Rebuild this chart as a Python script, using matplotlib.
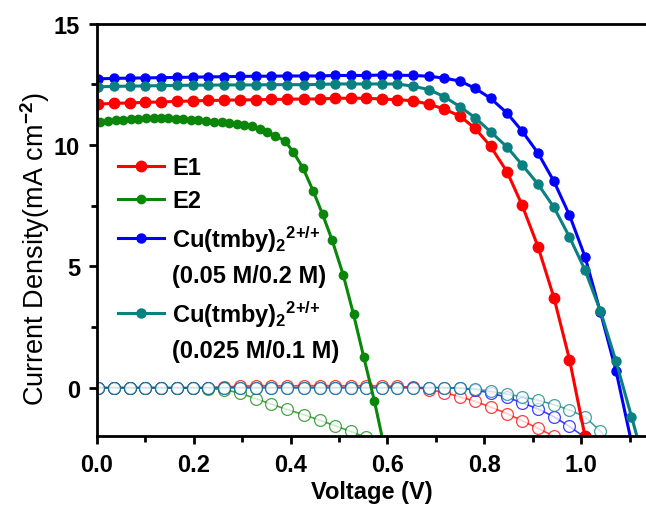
import numpy as np
import matplotlib
matplotlib.use("Agg")
import matplotlib.pyplot as plt
from matplotlib.ticker import MultipleLocator
from matplotlib.lines import Line2D

plt.rcParams['font.family'] = ['Liberation Sans', 'DejaVu Sans']
plt.rcParams['mathtext.fontset'] = 'custom'
plt.rcParams['mathtext.rm'] = 'Liberation Sans:bold'
plt.rcParams['mathtext.bf'] = 'Liberation Sans:bold'
plt.rcParams['mathtext.it'] = 'Liberation Sans:bold'
plt.rcParams['mathtext.default'] = 'bf'

# voltage grid (V)
volt = [0.003, 0.035, 0.068, 0.100, 0.133, 0.165, 0.198, 0.230, 0.263, 0.295,
        0.328, 0.360, 0.393, 0.428, 0.461, 0.492, 0.524, 0.556, 0.588, 0.620,
        0.652, 0.685, 0.717, 0.750, 0.781, 0.813, 0.847, 0.878, 0.911, 0.944,
        0.976, 1.008, 1.040, 1.072, 1.104, 1.136]

# light J-V curves (mA cm-2)
j_e1 = [11.69, 11.72, 11.74, 11.76, 11.78, 11.80, 11.82, 11.84, 11.85, 11.86,
        11.87, 11.88, 11.89, 11.90, 11.90, 11.93, 11.93, 11.93, 11.90, 11.87,
        11.83, 11.69, 11.49, 11.19, 10.69, 9.95, 8.90, 7.53, 5.81, 3.70,
        1.16, -2.0]
j_cu1 = [12.73, 12.75, 12.76, 12.77, 12.78, 12.79, 12.80, 12.81, 12.82, 12.83,
         12.84, 12.84, 12.85, 12.85, 12.85, 12.87, 12.87, 12.87, 12.89, 12.88,
         12.87, 12.84, 12.76, 12.64, 12.34, 11.93, 11.32, 10.58, 9.67, 8.50,
         7.11, 5.40, 3.10, 0.70, -2.25]
j_cu2 = [12.40, 12.42, 12.43, 12.44, 12.45, 12.46, 12.47, 12.47, 12.48, 12.48,
         12.48, 12.49, 12.49, 12.49, 12.50, 12.52, 12.52, 12.52, 12.52, 12.52,
         12.43, 12.29, 12.00, 11.58, 11.13, 10.55, 9.92, 9.19, 8.39, 7.43,
         6.21, 4.85, 3.15, 1.09, -1.19, -3.5]

# E2 was measured on a finer grid
volt_e2 = [0.006, 0.023, 0.039, 0.054, 0.070, 0.085, 0.101, 0.117, 0.132, 0.147,
           0.163, 0.178, 0.194, 0.209, 0.225, 0.242, 0.258, 0.273, 0.289, 0.304,
           0.321, 0.337, 0.352, 0.368, 0.388, 0.406, 0.426, 0.447, 0.466, 0.486,
           0.509, 0.530, 0.551, 0.573, 0.594]
j_e2 = [10.96, 10.99, 11.02, 11.05, 11.07, 11.09, 11.10, 11.10, 11.10, 11.10,
        11.09, 11.07, 11.05, 11.03, 11.00, 10.96, 10.94, 10.91, 10.87, 10.83,
        10.77, 10.66, 10.55, 10.38, 10.18, 9.70, 9.04, 8.09, 7.15, 6.07,
        4.63, 3.02, 1.27, -0.54, -2.5]

# dark curves
d_e1 = [0, 0, 0, 0, 0, 0, 0, 0, 0.03, 0.06,
        0.08, 0.08, 0.08, 0.08, 0.08, 0.08, 0.08, 0.08, 0.07, 0.05,
        0.02, -0.08, -0.20, -0.38, -0.56, -0.80, -1.07, -1.36, -1.68, -2.0,
        -2.4]
d_e2 = [0, 0, 0, 0, 0, -0.01, -0.02, -0.04, -0.08, -0.22,
        -0.45, -0.68, -0.90, -1.12, -1.35, -1.57, -1.80, -2.05]
d_cu1 = [0, 0, 0, 0, 0, 0, 0, 0, 0, 0,
         0, 0, 0, 0, 0, 0, 0, 0, 0, 0,
         0, 0, 0, -0.02, -0.10, -0.22, -0.40, -0.62, -0.88, -1.20,
         -1.60, -2.05]
d_cu2 = [0, 0, 0, 0, 0, 0, 0, 0, 0, 0,
         0, 0, 0, 0, 0, 0, 0, 0, 0, 0,
         0, 0, 0, -0.02, -0.05, -0.15, -0.27, -0.37, -0.52, -0.70,
         -0.92, -1.20, -1.80, -2.60]

RED = '#ff0000'
GREEN = '#0a860a'
BLUE = '#0000ff'
TEAL = '#0a8080'
FS = 17

fig = plt.figure(figsize=(6.46, 5.06), dpi=100)
ax = fig.add_axes([0.150, 0.136, 0.85, 0.815])

def dark(v, j, c):
    ax.plot(v[:len(j)], j, '-o', color=c, lw=1.2, ms=8.5, mfc='white',
            mec=c, mew=0.9, alpha=0.75)

dark(volt, d_e1, RED)
dark(volt, d_e2, GREEN)
dark(volt, d_cu1, BLUE)
dark(volt, d_cu2, TEAL)

l1, = ax.plot(volt[:len(j_e1)], j_e1, '-o', color=RED, lw=2.2, ms=7.5)
l2, = ax.plot(volt_e2, j_e2, '-o', color=GREEN, lw=2.2, ms=6)
l3, = ax.plot(volt[:len(j_cu1)], j_cu1, '-o', color=BLUE, lw=2.2, ms=6.5)
l4, = ax.plot(volt, j_cu2, '-o', color=TEAL, lw=2.2, ms=6.5)

blank = Line2D([], [], linestyle='none')
cu = 'Cu(tmby)$_2$$^{2{+}/{+}}$'
labels = ['E1', 'E2', cu, '(0.05 M/0.2 M)', cu, '(0.025 M/0.1 M)']
ax.legend([l1, l2, l3, blank, l4, blank], labels, loc='upper left',
          bbox_to_anchor=(0.008, 0.72), frameon=False, numpoints=1,
          handlelength=1.95, handletextpad=0.35, labelspacing=0.45,
          borderaxespad=0.3, prop={'size': FS, 'weight': 'bold'})

ax.set_xlim(0, 1.134)
ax.set_ylim(-2, 15)
ax.xaxis.set_major_locator(MultipleLocator(0.2))
ax.xaxis.set_minor_locator(MultipleLocator(0.1))
ax.yaxis.set_major_locator(MultipleLocator(5))
ax.yaxis.set_minor_locator(MultipleLocator(2.5))
ax.xaxis.set_major_formatter(plt.FuncFormatter(lambda x, p: '%.1f' % x))

ax.spines['right'].set_visible(False)
for s in ['left', 'bottom', 'top']:
    ax.spines[s].set_linewidth(2)
ax.tick_params(which='both', direction='out', width=2, labelsize=FS)
ax.tick_params(which='major', length=6, pad=6)
ax.tick_params(which='minor', length=4)
ax.tick_params(top=False, right=False)
for t in ax.get_xticklabels() + ax.get_yticklabels():
    t.set_fontweight('bold')

ax.set_xlabel('Voltage (V)', fontsize=FS, fontweight='bold', labelpad=3)
ax.set_ylabel('Current Density(mA cm$^{-2}$)', fontsize=19.5,
              fontweight='normal')
ax.yaxis.set_label_coords(-0.082, 0.455)

fig.savefig('out.png', dpi=100)
